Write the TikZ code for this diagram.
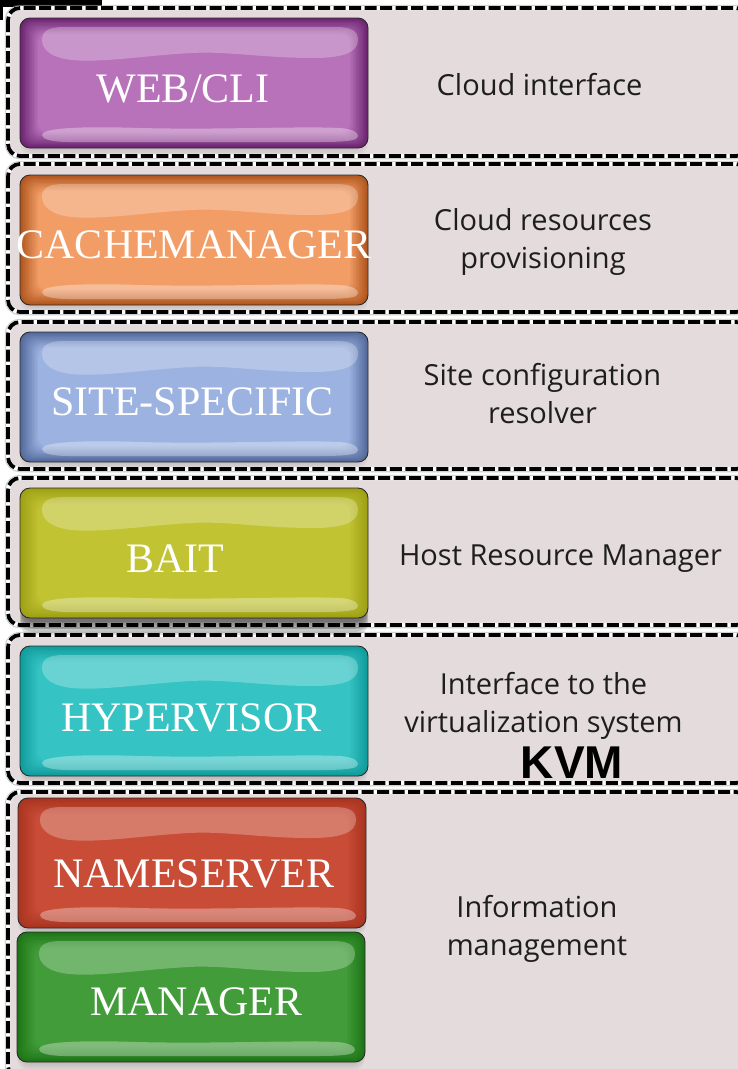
\documentclass[tikz,border=0pt]{standalone}
\usepackage{fontspec}
\setmainfont{Liberation Serif}
\newfontfamily\labelfont{Open Sans}
\newfontfamily\kvmfont{Liberation Sans}

\definecolor{cE3DBDC}{RGB}{227,219,220}
\definecolor{c1E1E1E}{RGB}{30,30,30}
\definecolor{c2B2B2B}{RGB}{43,43,43}
\definecolor{cB772B9}{RGB}{183,114,185}
\definecolor{c6C2470}{RGB}{108,36,112}
\definecolor{cF29D66}{RGB}{242,157,102}
\definecolor{cB0561E}{RGB}{176,86,30}
\definecolor{c9CB2E0}{RGB}{156,178,224}
\definecolor{c53699A}{RGB}{83,105,154}
\definecolor{cC1C333}{RGB}{193,195,51}
\definecolor{c9EA015}{RGB}{158,160,21}
\definecolor{c35C3C3}{RGB}{53,195,195}
\definecolor{c119C9C}{RGB}{17,156,156}
\definecolor{cC94C37}{RGB}{201,76,55}
\definecolor{cA8341F}{RGB}{168,52,31}
\definecolor{c419C39}{RGB}{65,156,57}
\definecolor{c1E7517}{RGB}{30,117,23}

% glossy button: #1 top left corner, #2 centre colour, #3 rim colour, #4 shadow opacity, #5 shadow depth
\newcommand{\glassbutton}[5]{%
  \begin{scope}[shift={#1}]
    \foreach \s in {1,...,6}
      \path[fill=black,fill opacity=#4,rounded corners=12pt]
        (3-\s/2,6) rectangle (345+\s/2,128+\s*#5);
    \path[fill=#3,draw=c2B2B2B,line width=0.9pt,rounded corners=10pt]
      (0,0) rectangle (348,130);
    \foreach \i in {1,...,12}{
      \pgfmathtruncatemacro{\mixpct}{\i*100/12}
      \path[fill=#2!\mixpct!#3,rounded corners=9pt]
        (1.5*\i,1.3*\i) rectangle (348-1.5*\i,130-1.3*\i);
    }
    \path[fill=white,fill opacity=0.26]
      (22,22) .. controls (22,12) and (30,9) .. (45,9) -- (315,9)
      .. controls (330,9) and (338,12) .. (338,22)
      .. controls (338,35) and (322,40) .. (292,40)
      .. controls (245,40) and (205,33) .. (172,35)
      .. controls (130,37) and (82,45) .. (52,42)
      .. controls (32,40) and (22,32) .. (22,22) -- cycle;
    \path[fill=white,fill opacity=0.33]
      (22,117) .. controls (22,110) and (60,108) .. (120,110)
      .. controls (200,112) and (280,108) .. (320,110)
      .. controls (334,111) and (338,115) .. (338,118)
      .. controls (338,122) and (330,124) .. (300,124) -- (50,124)
      .. controls (30,124) and (22,121) .. (22,117) -- cycle;
  \end{scope}}

\begin{document}
\begin{tikzpicture}[x=1pt, y=1pt, yscale=-1,
    layer/.style={fill=cE3DBDC,rounded corners=12pt},
    layerrim/.style={draw=black,line width=3.8pt,dash pattern=on 12pt off 3.5pt,rounded corners=12pt},
    btnlabel/.style={anchor=base,inner sep=0pt,text=white,font=\fontsize{42}{46}\selectfont},
    sidelabel/.style={anchor=base,inner sep=0pt,align=center,text=c1E1E1E,font=\labelfont\fontsize{29}{38}\selectfont}]
\useasboundingbox (0,0) rectangle (738,1069);
\path[fill=white] (0,0) rectangle (738,1069);
\path[fill=black] (0,0) rectangle (102,7);
\path[fill=black] (0,0) rectangle (3,20);

% layers
\foreach \ytop/\ybot in {8/156, 164/312, 322/469, 478/625, 635/783, 792/1078}{
  \path[draw=black!40,draw opacity=0.5,line width=6.5pt,rounded corners=12pt] (8,\ytop) rectangle (748,\ybot);
  \path[layer,draw=white,line width=4.4pt] (8,\ytop) rectangle (748,\ybot);
  \path[layerrim] (8,\ytop) rectangle (748,\ybot);
}

% buttons
\glassbutton{(20,18)}{cB772B9}{c6C2470}{0.02}{1.7}
\glassbutton{(20,175)}{cF29D66}{cB0561E}{0.02}{1.7}
\glassbutton{(20,332)}{c9CB2E0}{c53699A}{0.02}{1.7}
\glassbutton{(20,646)}{c35C3C3}{c119C9C}{0.03}{1.7}
\glassbutton{(20,488)}{cC1C333}{c9EA015}{0.12}{3.2}
\glassbutton{(18,798)}{cC94C37}{cA8341F}{0.03}{1.7}
\glassbutton{(17,932)}{c419C39}{c1E7517}{0.03}{1.7}

\node[btnlabel] (webcli) at (183,102) {WEB/CLI};
\node[btnlabel] (cachemgr) at (194,258) {CACHEMANAGER};
\node[btnlabel] (sitespec) at (192.5,415) {SITE-SPECIFIC};
\node[btnlabel] (bait) at (175,572) {BAIT};
\node[btnlabel] (hypervisor) at (191.5,731) {HYPERVISOR};
\node[btnlabel] (nameserver) at (194,887) {NAMESERVER};
\node[btnlabel] (manager) at (196.5,1015) {MANAGER};

\node[sidelabel] (cloudif) at (539.5,95) {Cloud interface};
\node[sidelabel] (cloudres) at (543,268) {Cloud resources\\provisioning};
\node[sidelabel] (siteconf) at (542.5,423) {Site configuration\\resolver};
\node[sidelabel] (hostres) at (560.5,565) {Host Resource Manager};
\node[sidelabel] (virtif) at (543.5,732) {Interface to the\\virtualization system};
\node[anchor=base,inner sep=0pt,font=\kvmfont\bfseries\fontsize{46}{50}\selectfont] (kvm) at (572,778) {KVM};
\node[sidelabel] (infomgmt) at (537,955) {Information\\management};
\end{tikzpicture}
\end{document}
